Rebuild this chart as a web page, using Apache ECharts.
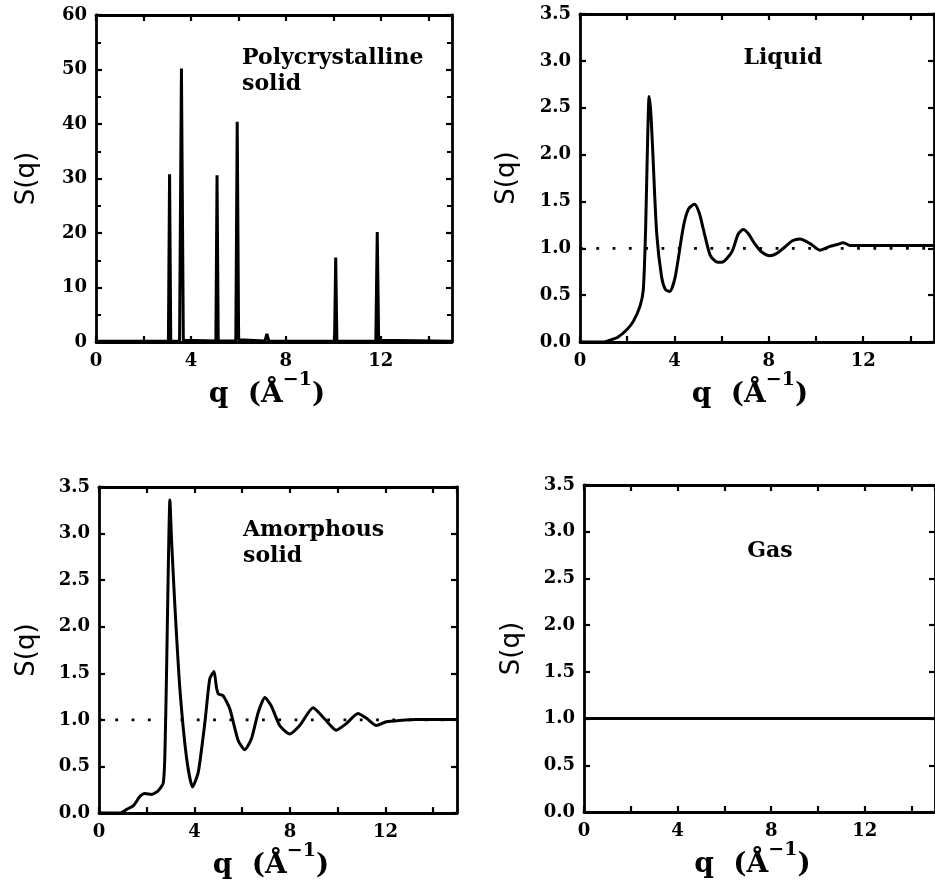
<!DOCTYPE html>
<html>
<head>
<meta charset="utf-8">
<script src="https://cdn.jsdelivr.net/npm/echarts@6/dist/echarts.min.js"></script>
<style>
html,body{margin:0;padding:0;background:#fff;}
#c{width:935px;height:890px;}
</style>
</head>
<body>
<div id="c"></div>
<script>
// ---------- data ----------
const polyQ = [0, 3.05, 3.1, 3.15, 3.52, 3.6, 3.68, 5.05, 5.1, 5.15, 5.89, 5.95, 6.01, 7.12, 7.2, 7.28, 10.05, 10.1, 10.15, 11.79, 11.85, 11.91, 15];
const polyS = [0.15, 0.15, 30.8, 0.15, 0.15, 50.2, 0.3, 0.2, 30.6, 0.2, 0.2, 40.4, 0.4, 0.2, 1.5, 0.2, 0.15, 15.5, 0.15, 0.15, 20.2, 0.3, 0.15];

const liquidQ = [0, 1.0, 1.27, 1.6, 1.98, 2.26, 2.54, 2.68, 2.78, 2.86, 2.93, 3.0, 3.08, 3.25, 3.46, 3.62, 3.8, 4.03, 4.38, 4.6, 4.85, 5.05, 5.23, 5.51, 5.75, 6.0, 6.43, 6.7, 6.92, 7.15, 7.4, 7.7, 8.05, 8.3, 8.62, 9.0, 9.32, 9.75, 10.17, 10.59, 10.9, 11.16, 11.44, 15];
const liquidS = [0, 0, 0.02, 0.05, 0.13, 0.22, 0.38, 0.55, 1.2, 2.1, 2.62, 2.45, 2.05, 1.16, 0.69, 0.56, 0.54, 0.69, 1.23, 1.42, 1.47, 1.38, 1.2, 0.93, 0.86, 0.85, 0.96, 1.15, 1.2, 1.15, 1.05, 0.96, 0.92, 0.94, 1.0, 1.08, 1.1, 1.05, 0.98, 1.02, 1.04, 1.06, 1.03, 1.03];

const amorphQ = [0, 0.88, 1.16, 1.44, 1.72, 1.92, 2.2, 2.48, 2.69, 2.76, 2.83, 2.9, 2.97, 3.04, 3.18, 3.39, 3.67, 3.92, 4.16, 4.44, 4.64, 4.82, 4.92, 5.0, 5.2, 5.48, 5.83, 6.11, 6.39, 6.67, 6.95, 7.22, 7.57, 7.99, 8.41, 8.97, 9.46, 9.94, 10.36, 10.85, 11.2, 11.62, 12.04, 12.59, 13.29, 15];
const amorphS = [0, 0, 0.04, 0.08, 0.18, 0.21, 0.2, 0.24, 0.32, 0.62, 1.51, 2.58, 3.36, 2.93, 2.22, 1.33, 0.59, 0.28, 0.44, 0.98, 1.44, 1.52, 1.35, 1.28, 1.26, 1.12, 0.78, 0.68, 0.8, 1.08, 1.24, 1.15, 0.94, 0.85, 0.94, 1.13, 1.01, 0.89, 0.96, 1.07, 1.02, 0.94, 0.98, 0.995, 1.005, 1.005];

const gasQ = [0, 15];
const gasS = [1.0, 1.0];

const refQ = [0, 15];
const refS = [1.0, 1.0];

const xTickLabels = [0, 4, 8, 12];
const polyYMax = 60, polyYStep = 10;
const sYMax = 3.5, sYStep = 0.5;
const panelLabels = ['Polycrystalline\nsolid', 'Liquid', 'Amorphous\nsolid', 'Gas'];
const yName = 'S(q)';

// ---------- layout ----------
const grids = [
  {left: 96, top: 15, width: 356, height: 327},
  {left: 580, top: 14, width: 354, height: 328},
  {left: 99, top: 487, width: 358, height: 328},
  {left: 584, top: 485, width: 356, height: 327}
];
const yNameGaps = [56, 60, 59, 59];

const SERIF = '"DejaVu Serif", serif';
const lineStyleAxis = {color: '#000', width: 2.8};
const tickStyle = {inside: true, length: 6, lineStyle: {color: '#000', width: 2.2}};

function zip(a, b) { return a.map((v, i) => [v, b[i]]); }

const xAxis = [], yAxis = [];
grids.forEach((g, gi) => {
  const isPoly = gi === 0;
  const xBase = {
    gridIndex: gi, type: 'value', min: 0, max: 15, interval: 2,
    axisLine: {show: true, onZero: false, lineStyle: lineStyleAxis},
    axisTick: tickStyle, splitLine: {show: false}
  };
  xAxis.push(Object.assign({}, xBase, {
    position: 'bottom',
    axisLabel: {
      formatter: v => xTickLabels.includes(v) ? String(v) : '',
      color: '#000', fontFamily: SERIF, fontWeight: 'bold', fontSize: 18, margin: 10,
      showMaxLabel: false
    },
    name: '{n|q  (Å}{s|−1}{n|)}',
    nameLocation: 'middle', nameGap: 29,
    nameTextStyle: {
      padding: [0, 14, 0, 0],
      rich: {
        n: {fontFamily: SERIF, fontWeight: 'bold', fontSize: 28, color: '#000', lineHeight: 36},
        s: {fontFamily: SERIF, fontWeight: 'bold', fontSize: 19, color: '#000', lineHeight: 20, padding: [0, 0, 28, 0]}
      }
    }
  }));
  xAxis.push(Object.assign({}, xBase, {position: 'top', axisLabel: {show: false}}));

  const yBase = {
    gridIndex: gi, type: 'value', min: 0,
    max: isPoly ? polyYMax : sYMax, interval: isPoly ? polyYStep : sYStep,
    axisLine: {show: true, onZero: false, lineStyle: lineStyleAxis},
    axisTick: tickStyle, splitLine: {show: false},
    minorTick: {show: isPoly, splitNumber: 2, length: 5, lineStyle: {color: '#000', width: 2}},
    minorSplitLine: {show: false}
  };
  yAxis.push(Object.assign({}, yBase, {
    position: 'left',
    axisLabel: {
      formatter: v => isPoly ? String(v) : v.toFixed(1),
      color: '#000', fontFamily: SERIF, fontWeight: 'bold', fontSize: 18, margin: 9
    },
    name: yName, nameLocation: 'middle', nameGap: yNameGaps[gi], nameRotate: 90,
    nameTextStyle: {fontFamily: '"DejaVu Sans", sans-serif', fontSize: 26, color: '#000'}
  }));
  yAxis.push(Object.assign({}, yBase, {position: 'right', axisLabel: {show: false}}));
});

function curve(gi, q, s, extra) {
  return Object.assign({
    type: 'line', xAxisIndex: 2 * gi, yAxisIndex: 2 * gi,
    data: zip(q, s), showSymbol: false, symbol: 'none',
    lineStyle: {color: '#000', width: 3}, z: 3, animation: false
  }, extra || {});
}
function dotted(gi) {
  return curve(gi, refQ, refS, {lineStyle: {color: '#000', width: 2.8, type: [2.8, 13.5]}, z: 2});
}

const series = [
  curve(0, polyQ, polyS),
  dotted(1),
  curve(1, liquidQ, liquidS, {smooth: 0.25}),
  dotted(2),
  curve(2, amorphQ, amorphS, {smooth: 0.2}),
  curve(3, gasQ, gasS)
];

const labelFont = 'bold 22px ' + SERIF;
const graphic = [
  {type: 'text', x: 242, y: 45, style: {text: panelLabels[0], font: labelFont, fill: '#000', lineHeight: 26}},
  {type: 'text', x: 783, y: 58, style: {text: panelLabels[1], font: labelFont, fill: '#000', align: 'center', verticalAlign: 'middle', textAlign: 'center', textVerticalAlign: 'middle'}},
  {type: 'text', x: 243, y: 517, style: {text: panelLabels[2], font: labelFont, fill: '#000', lineHeight: 26}},
  {type: 'text', x: 770, y: 551, style: {text: panelLabels[3], font: labelFont, fill: '#000', align: 'center', verticalAlign: 'middle', textAlign: 'center', textVerticalAlign: 'middle'}}
];

const chart = echarts.init(document.getElementById('c'), null, {renderer: 'canvas'});
chart.setOption({
  animation: false,
  backgroundColor: '#fff',
  grid: grids.map(g => Object.assign({containLabel: false}, g)),
  xAxis, yAxis, series, graphic
});
</script>
</body>
</html>
